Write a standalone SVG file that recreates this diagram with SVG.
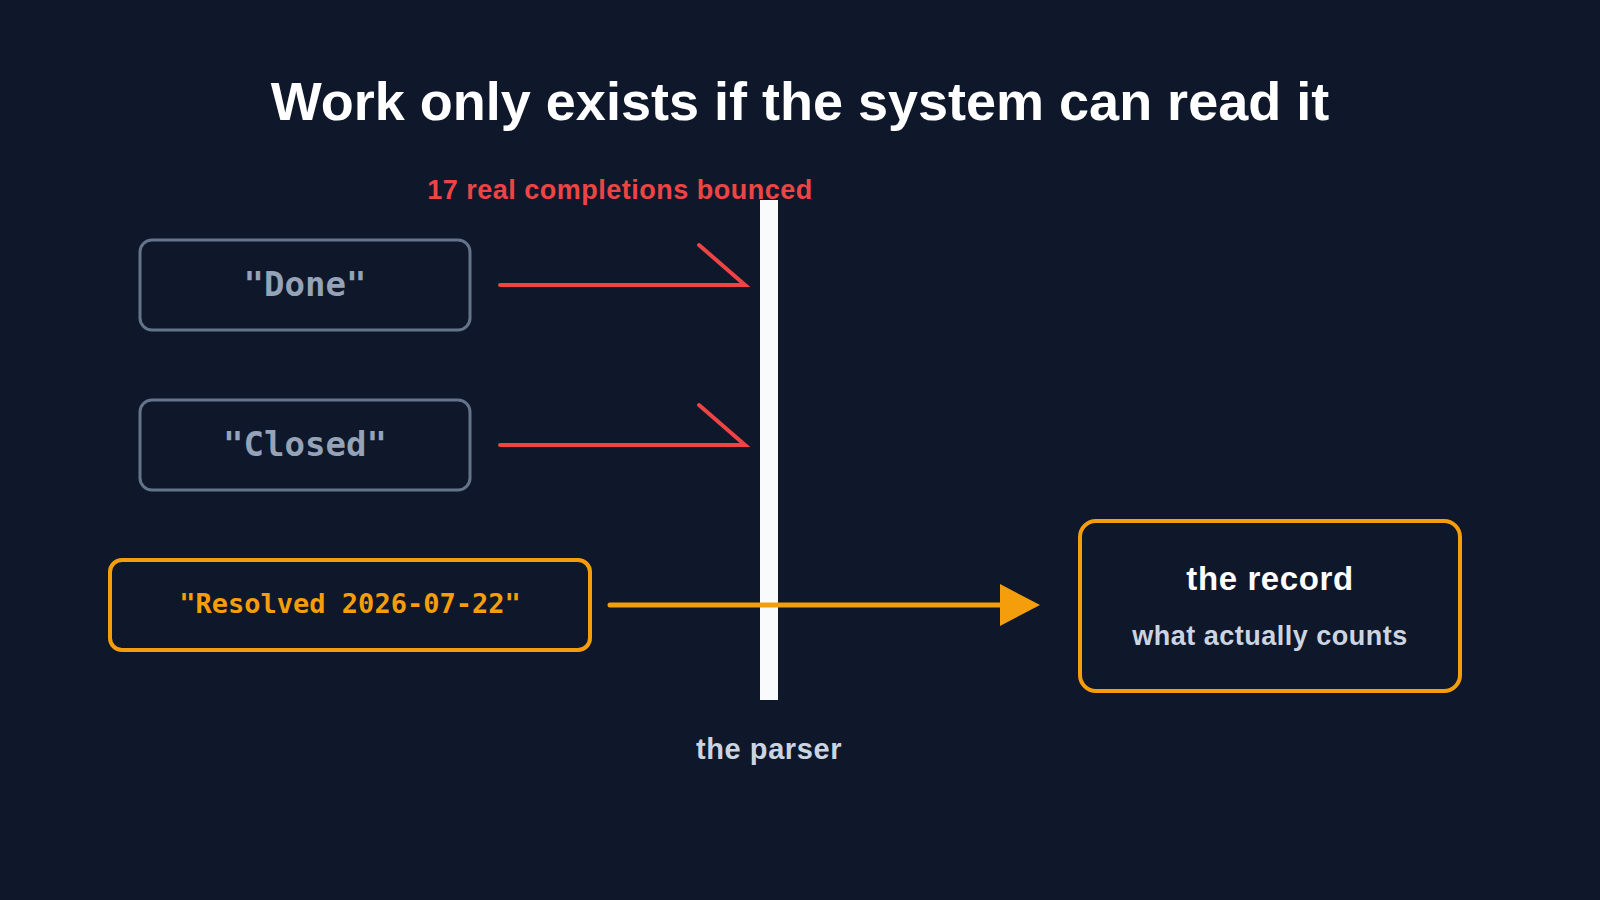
<svg xmlns="http://www.w3.org/2000/svg" width="1600" height="900" viewBox="0 0 1600 900">
<defs>
<style>
.sans{font-family:"Liberation Sans",Arial,sans-serif;font-weight:bold}
.mono{font-family:"DejaVu Sans Mono","Liberation Mono",monospace;font-weight:bold}
.grey{fill:#0f172a;stroke:#64748b;stroke-width:3}
.gold{fill:#0f172a;stroke:#f59e0b;stroke-width:4}
.red{fill:none;stroke:#ef4444;stroke-width:4;stroke-linecap:round}
</style>
<marker id="ah" viewBox="0 0 40 42" refX="0" refY="21" markerWidth="40" markerHeight="42" markerUnits="userSpaceOnUse" orient="auto">
<path d="M0,0 L40,21 L0,42 Z" fill="#f59e0b"/>
</marker>
</defs>
<rect width="1600" height="900" fill="#0f172a"/>
<text class="sans" x="800" y="120" text-anchor="middle" font-size="54" fill="#ffffff">Work only exists if the system can read it</text>
<g id="parser">
<rect x="760" y="200" width="18" height="500" fill="#f8fafc"/>
<text class="sans" x="769" y="759" text-anchor="middle" font-size="29" letter-spacing="0.6" fill="#cbd5e1">the parser</text>
<text class="sans" x="620" y="199" text-anchor="middle" font-size="27" letter-spacing="0.5" fill="#ef4444">17 real completions bounced</text>
</g>
<g id="done">
<rect class="grey" x="140" y="240" width="330" height="90" rx="12"/>
<text class="mono" x="305" y="296" text-anchor="middle" font-size="34" fill="#94a3b8">"Done"</text>
</g>
<g id="closed">
<rect class="grey" x="140" y="400" width="330" height="90" rx="12"/>
<text class="mono" x="305" y="456" text-anchor="middle" font-size="34" fill="#94a3b8">"Closed"</text>
</g>
<g id="resolved">
<rect class="gold" x="110" y="560" width="480" height="90" rx="12"/>
<text class="mono" x="350" y="613" text-anchor="middle" font-size="27" fill="#f59e0b">"Resolved 2026-07-22"</text>
</g>
<g id="record">
<rect class="gold" x="1080" y="521" width="380" height="170" rx="16"/>
<text class="sans" x="1270" y="590" text-anchor="middle" font-size="33" letter-spacing="0.6" fill="#ffffff">the record</text>
<text class="sans" x="1270" y="645" text-anchor="middle" font-size="27" letter-spacing="0.5" fill="#cbd5e1">what actually counts</text>
</g>
<g id="connectors">
<path class="red" d="M500,285 L745,285 L699,245"/>
<path class="red" d="M500,445 L745,445 L699,405"/>
<line x1="610" y1="605" x2="1000" y2="605" stroke="#f59e0b" stroke-width="5" stroke-linecap="round" marker-end="url(#ah)"/>
</g>
</svg>
